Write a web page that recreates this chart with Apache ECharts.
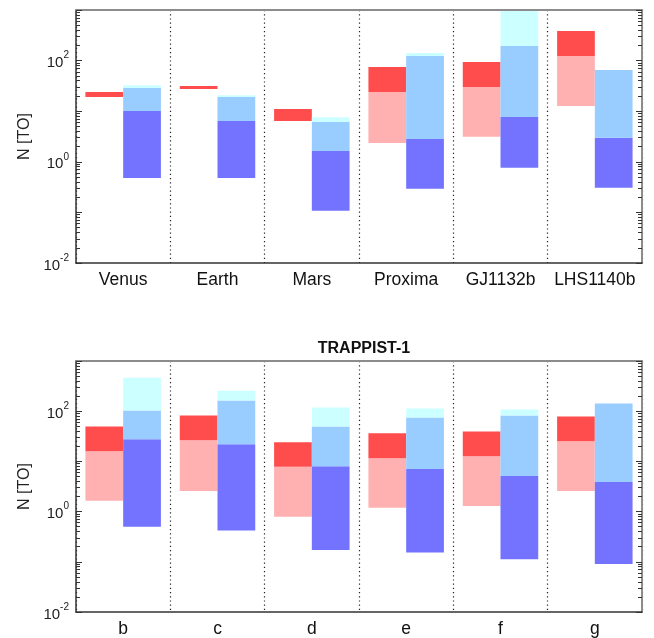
<!DOCTYPE html>
<html>
<head>
<meta charset="utf-8">
<script src="https://cdn.jsdelivr.net/npm/echarts@6/dist/echarts.min.js"></script>
<style>html,body{margin:0;padding:0;background:#fff}#c{width:654px;height:638px}</style>
</head>
<body>
<div id="c"></div>
<script>
// ---- data ----
const topCats = ['Venus', 'Earth', 'Mars', 'Proxima', 'GJ1132b', 'LHS1140b'];
const topRedBottom  = [19.1, 27.5, 6.4, 2.35, 3.14, 12.7];
const topRedMid     = [19.1, 27.5, 6.4, 23.9, 30.1, 123];
const topRedTop     = [23.9, 31.5, 11.0, 74.8, 93.8, 385];
const topBlueBottom = [0.48, 0.48, 0.108, 0.294, 0.766, 0.308];
const topBlueMid    = [10.1, 6.4, 1.63, 2.82, 7.68, 3.0];
const topBlueUpper  = [28.7, 19.1, 6.1, 123, 194, 65.2];
const topBlueTop    = [32.4, 20.6, 7.6, 141, 1000, 65.2];

const botCats = ['b', 'c', 'd', 'e', 'f', 'g'];
const botRedBottom  = [1.64, 2.58, 0.79, 1.19, 1.30, 2.58];
const botRedMid     = [16.0, 26.3, 7.8, 11.6, 12.7, 25.1];
const botRedTop     = [49.8, 82, 24.0, 36.2, 39.6, 78.5];
const botBlueBottom = [0.50, 0.418, 0.171, 0.153, 0.113, 0.090];
const botBlueMid    = [27.5, 21.9, 8.05, 7.03, 5.1, 3.89];
const botBlueUpper  = [103, 163, 49.8, 75, 82, 142];
const botBlueTop    = [463, 256, 118, 113, 108, 142];

const yMin = 0.01, yMax = 1000;
const yLabelExps = [-2, 0, 2];
const yName = 'N [TO]';
const bottomTitle = 'TRAPPIST-1';

// ---- styles ----
const FONT = '"Liberation Sans", Arial, Helvetica, sans-serif';
const C_RED = '#ff4d4d', C_LRED = '#ffb0b0', C_DBLUE = '#7373ff', C_LBLUE = '#99ccff', C_CYAN = '#ccffff';

const chart = echarts.init(document.getElementById('c'), null, {renderer: 'canvas'});

function segData(lo, hi, side) {
  const out = [];
  for (let i = 0; i < lo.length; i++) {
    if (hi[i] > lo[i]) out.push([i, lo[i], hi[i], side]);
  }
  return out;
}

function renderSeg(params, api) {
  const c = api.value(0), lo = api.value(1), hi = api.value(2), side = api.value(3);
  const pHi = api.coord([c, hi]);
  const pLo = api.coord([c, lo]);
  const band = api.size([1, 1])[0];
  const w = band * 0.4;
  const x = side === 0 ? pHi[0] - w : pHi[0];
  return {
    type: 'rect',
    shape: {x: x, y: pHi[1], width: w, height: pLo[1] - pHi[1]},
    style: {fill: api.visual('color')}
  };
}

function segSeries(gi, lo, hi, side, color) {
  return {
    type: 'custom',
    xAxisIndex: gi * 2,
    yAxisIndex: gi * 2,
    renderItem: renderSeg,
    encode: {x: 0, y: [1, 2]},
    itemStyle: {color: color},
    data: segData(lo, hi, side),
    silent: true,
    z: 2
  };
}

function yLabel(v) {
  const e = Math.round(Math.log10(v));
  if (yLabelExps.indexOf(e) < 0) return '';
  return '{b|10}{s|' + e + '}';
}

const grids = [
  {left: 76, top: 10, width: 566, height: 253},
  {left: 76, top: 361, width: 566, height: 253}
];

const xAxes = [], yAxes = [];
[topCats, botCats].forEach(function (cats, gi) {
  xAxes.push({
    type: 'category', gridIndex: gi, data: cats, position: 'bottom',
    axisLine: {show: true, lineStyle: {color: '#333', width: 1.5}},
    axisTick: {show: false},
    axisLabel: {color: '#111', fontSize: 17.5, fontFamily: FONT, margin: 8, interval: 0},
    splitLine: {show: true, interval: 0, lineStyle: {color: '#222', type: [1.2, 3], width: 1.2}},
    z: 3
  });
  xAxes.push({
    type: 'category', gridIndex: gi, data: cats, position: 'top',
    axisLine: {show: true, lineStyle: {color: '#8c8c8c', width: 2}},
    axisTick: {show: false}, axisLabel: {show: false}, splitLine: {show: false},
    z: 3
  });
  yAxes.push({
    type: 'log', logBase: 10, gridIndex: gi, min: yMin, max: yMax, splitNumber: 5,
    position: 'left',
    name: yName, nameLocation: 'middle', nameGap: 42,
    nameTextStyle: {fontSize: 16, fontFamily: FONT, color: '#222'},
    axisLine: {show: true, lineStyle: {color: '#333', width: 1.5}},
    axisTick: {show: true, inside: true, length: 6, lineStyle: {color: '#333'}},
    minorTick: {show: true, splitNumber: 9, length: 4, lineStyle: {color: '#333'}},
    axisLabel: {
      formatter: yLabel, margin: 7, showMinLabel: true, showMaxLabel: true,
      rich: {
        b: {fontSize: 15, fontFamily: FONT, color: '#222', lineHeight: 20, verticalAlign: 'bottom'},
        s: {fontSize: 10, fontFamily: FONT, color: '#222', lineHeight: 20, verticalAlign: 'top'}
      }
    },
    splitLine: {show: false},
    z: 3
  });
  yAxes.push({
    type: 'log', logBase: 10, gridIndex: gi, min: yMin, max: yMax, splitNumber: 5,
    position: 'right',
    axisLine: {show: true, lineStyle: {color: '#8c8c8c', width: 2}},
    axisTick: {show: true, inside: true, length: 6, lineStyle: {color: '#333'}},
    minorTick: {show: true, splitNumber: 9, length: 4, lineStyle: {color: '#333'}},
    axisLabel: {show: false},
    splitLine: {show: false},
    z: 3
  });
});

const series = [];
[
  [topRedBottom, topRedMid, topRedTop, topBlueBottom, topBlueMid, topBlueUpper, topBlueTop],
  [botRedBottom, botRedMid, botRedTop, botBlueBottom, botBlueMid, botBlueUpper, botBlueTop]
].forEach(function (d, gi) {
  series.push(segSeries(gi, d[0], d[1], 0, C_LRED));
  series.push(segSeries(gi, d[1], d[2], 0, C_RED));
  series.push(segSeries(gi, d[3], d[4], 1, C_DBLUE));
  series.push(segSeries(gi, d[4], d[5], 1, C_LBLUE));
  series.push(segSeries(gi, d[5], d[6], 1, C_CYAN));
});

chart.setOption({
  animation: false,
  backgroundColor: '#fff',
  title: {
    text: bottomTitle, left: 359, top: 336, textAlign: 'center',
    textStyle: {fontSize: 16, fontWeight: 'bold', fontFamily: FONT, color: '#111'}
  },
  grid: grids,
  xAxis: xAxes,
  yAxis: yAxes,
  series: series
});
</script>
</body>
</html>
